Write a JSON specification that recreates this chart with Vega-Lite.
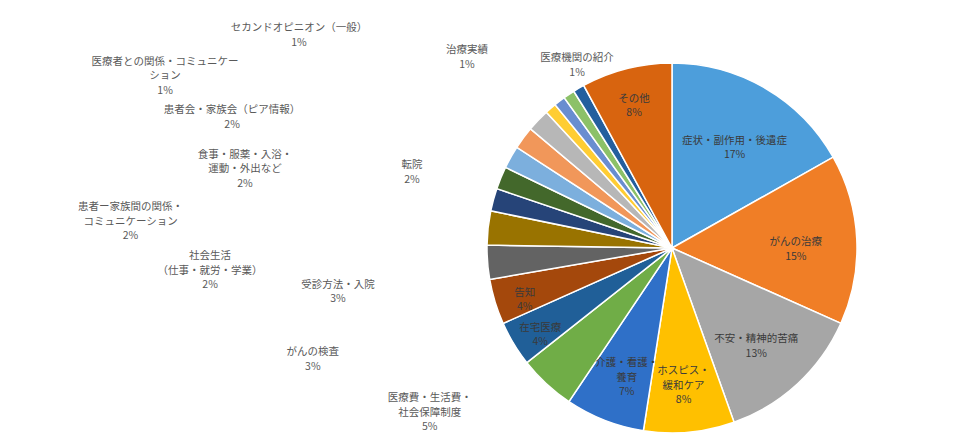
{
  "$schema": "https://vega.github.io/schema/vega-lite/v6.json",
  "width": 592,
  "height": 392,
  "autosize": {"type": "none"},
  "padding": {"left": 376, "top": 52, "right": 0, "bottom": 0},
  "background": "white",
  "config": {"view": {"stroke": null}, "text": {"font": "Noto Sans CJK JP"}},
  "data": {
    "values": [
      {"category": "症状・副作用・後遺症", "label": "症状・副作用・後遺症", "value": 17},
      {"category": "がんの治療", "label": "がんの治療", "value": 15},
      {"category": "不安・精神的苦痛", "label": "不安・精神的苦痛", "value": 13},
      {"category": "ホスピス・緩和ケア", "label": "ホスピス・\n緩和ケア", "value": 8},
      {"category": "介護・看護・養育", "label": "介護・看護・\n養育", "value": 7},
      {"category": "医療費・生活費・社会保障制度", "label": "医療費・生活費・\n社会保障制度", "value": 5},
      {"category": "在宅医療", "label": "在宅医療", "value": 4},
      {"category": "告知", "label": "告知", "value": 4},
      {"category": "がんの検査", "label": "がんの検査", "value": 3},
      {"category": "受診方法・入院", "label": "受診方法・入院", "value": 3},
      {"category": "社会生活（仕事・就労・学業）", "label": "社会生活\n（仕事・就労・学業）", "value": 2},
      {"category": "患者ー家族間の関係・コミュニケーション", "label": "患者ー家族間の関係・\nコミュニケーション", "value": 2},
      {"category": "転院", "label": "転院", "value": 2},
      {"category": "食事・服薬・入浴・運動・外出など", "label": "食事・服薬・入浴・\n運動・外出など", "value": 2},
      {"category": "患者会・家族会（ピア情報）", "label": "患者会・家族会（ピア情報）", "value": 2},
      {"category": "医療者との関係・コミュニケーション", "label": "医療者との関係・コミュニケー\nション", "value": 1},
      {"category": "セカンドオピニオン（一般）", "label": "セカンドオピニオン（一般）", "value": 1},
      {"category": "治療実績", "label": "治療実績", "value": 1},
      {"category": "医療機関の紹介", "label": "医療機関の紹介", "value": 1},
      {"category": "その他", "label": "その他", "value": 8}
    ]
  },
  "transform": [
    {"window": [{"op": "row_number", "as": "idx"}]},
    {"calculate": "datum.label + '\\n' + datum.value + '%'", "as": "txt"}
  ],
  "layer": [
    {
      "mark": {"type": "arc", "outerRadius": 185, "stroke": "white", "strokeWidth": 1.5},
      "encoding": {
        "theta": {"field": "value", "type": "quantitative", "stack": true},
        "order": {"field": "idx", "type": "quantitative"},
        "color": {
          "field": "category",
          "type": "nominal",
          "legend": null,
          "scale": {
            "domain": ["症状・副作用・後遺症", "がんの治療", "不安・精神的苦痛", "ホスピス・緩和ケア", "介護・看護・養育", "医療費・生活費・社会保障制度", "在宅医療", "告知", "がんの検査", "受診方法・入院", "社会生活（仕事・就労・学業）", "患者ー家族間の関係・コミュニケーション", "転院", "食事・服薬・入浴・運動・外出など", "患者会・家族会（ピア情報）", "医療者との関係・コミュニケーション", "セカンドオピニオン（一般）", "治療実績", "医療機関の紹介", "その他"],
            "range": ["#4d9edb", "#f07e26", "#a6a6a6", "#ffc000", "#2f70c8", "#70ad47", "#205f98", "#a4480c", "#636363", "#997300", "#264478", "#43682b", "#7cafdd", "#f1975a", "#b7b7b7", "#ffcd33", "#698ed0", "#8cc168", "#245f9e", "#d8640f"]
          }
        }
      }
    },
    {
      "mark": {"type": "text", "radius": 124, "fontSize": 10.5, "lineBreak": "\n", "lineHeight": 14.5, "fill": "#3a3a3a", "align": "center", "baseline": "middle"},
      "encoding": {
        "theta": {"field": "value", "type": "quantitative", "stack": true},
        "order": {"field": "idx", "type": "quantitative"},
        "text": {
          "condition": {"test": "datum.value >= 7 && datum.category != 'その他'", "field": "txt"},
          "value": ""
        }
      }
    },
    {
      "mark": {"type": "text", "radius": 154, "fontSize": 10.5, "lineBreak": "\n", "lineHeight": 14.5, "fill": "#3a3a3a", "align": "center", "baseline": "middle"},
      "encoding": {
        "theta": {"field": "value", "type": "quantitative", "stack": true},
        "order": {"field": "idx", "type": "quantitative"},
        "text": {
          "condition": {"test": "datum.value == 4 || datum.category == 'その他'", "field": "txt"},
          "value": ""
        }
      }
    },
    {
      "transform": [
        {"filter": "datum.value < 4 || datum.category == '医療費・生活費・社会保障制度'"},
        {"window": [{"op": "row_number", "as": "rank"}], "sort": [{"field": "idx"}]}
      ],
      "mark": {"type": "text", "fontSize": 10.5, "lineBreak": "\n", "lineHeight": 14.5, "fill": "#595959", "align": "center", "baseline": "middle"},
      "encoding": {
        "theta": {
          "field": "rank",
          "type": "quantitative",
          "stack": null,
          "scale": {"type": "linear", "zero": false, "domain": [1, 2, 3, 4, 5, 6, 7, 8, 9, 10, 11, 12], "range": [4.1574, 4.4297, 4.6024, 4.6949, 4.7874, 5.0213, 4.927, 5.0161, 5.0641, 5.2447, 5.4803, 5.8189]}
        },
        "radius": {
          "field": "rank",
          "type": "quantitative",
          "scale": {"type": "linear", "zero": false, "domain": [1, 2, 3, 4, 5, 6, 7, 8, 9, 10, 11, 12], "range": [285, 374, 336, 462, 543, 273, 437, 461, 540, 433, 285, 212]}
        },
        "text": {"field": "txt"}
      }
    }
  ],
  "resolve": {"scale": {"theta": "independent"}}
}
